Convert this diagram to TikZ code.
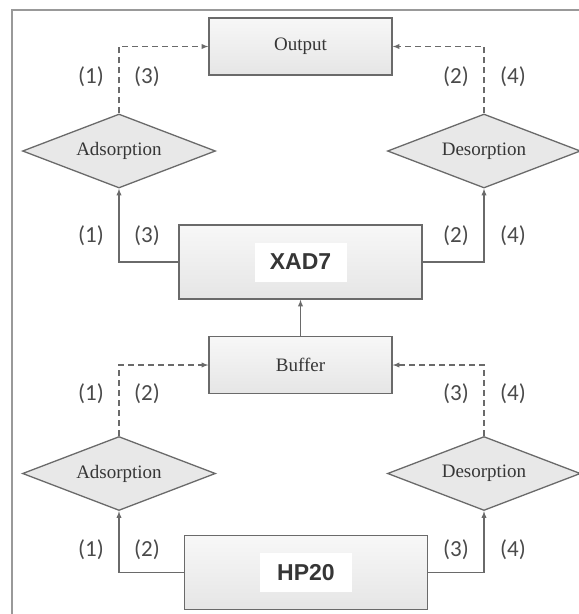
\documentclass[tikz,border=0pt]{standalone}
\usepackage{fontspec}
\setmainfont{Liberation Serif}
\newfontfamily\numfont{Carlito}
\newfontfamily\tagfont{Liberation Sans}
\usetikzlibrary{shapes,arrows}
\definecolor{linegray}{HTML}{6A6A6A}
\definecolor{textgray}{HTML}{363636}
\tikzstyle{block} = [draw=linegray, line width=1.3pt, top color=white!97!black, bottom color=white!90!black, minimum width=183pt, minimum height=57pt, text=textgray, font=\fontsize{19}{19}\selectfont]
\tikzstyle{bigblock} = [block, minimum width=243pt, minimum height=74pt]
\tikzstyle{tag} = [fill=white, minimum width=92pt, minimum height=39pt, text=textgray, font=\tagfont\bfseries\fontsize{23}{23}\selectfont]
\tikzstyle{decision} = [diamond, aspect=2.6, draw=linegray, line width=1.3pt, fill=white!91!black, minimum width=193pt, minimum height=74pt, inner sep=0pt, text=textgray, font=\fontsize{19}{19}\selectfont]
\tikzstyle{pathlabel} = [text=textgray!90, font=\numfont\fontsize{23}{23}\selectfont]
\tikzstyle{flow} = [draw=linegray, line width=1.3pt, ->]
\tikzstyle{maybe} = [flow, dash pattern=on 6pt off 4pt]

\begin{document}
\begin{tikzpicture}[x=1pt, y=1pt, >=latex]
		\useasboundingbox (0,0) rectangle (579,-614);
		\fill [white] (0,0) rectangle (579,-614);
		\draw [gray!80, line width=1.6pt] (600,-10) -- (12,-10) -- (12,-630);
		
		% columns
		\node [bigblock] (xad) at (300.5,-262) {};
		\node [tag] (xadtag) at (xad) {XAD7};
		\node [block, above of=xad, node distance=215.5pt] (out) {Output};
		\node [block, below of=xad, node distance=103pt] (buf) {Buffer};
		\node [bigblock, below of=buf, node distance=207.5pt, xshift=5.5pt] (hp) {};
		\node [tag] (hptag) at (hp) {HP20};
		
		\node [decision] (ad1) at (119,-151) {Adsorption};
		\node [decision, right of=ad1, node distance=365pt] (de1) {Desorption};
		\node [decision] (ad2) at (119,-473.5) {Adsorption};
		\node [decision, right of=ad2, node distance=365pt] (de2) {Desorption};
		
		% step numbers
		\node [pathlabel] (n1) at (91,-77) {(1)};
		\node [pathlabel] (n2) at (147,-77) {(3)};
		\node [pathlabel] (n3) at (456,-77) {(2)};
		\node [pathlabel] (n4) at (513,-77) {(4)};
		\node [pathlabel] (n5) at (91,-236) {(1)};
		\node [pathlabel] (n6) at (147,-236) {(3)};
		\node [pathlabel] (n7) at (456,-236) {(2)};
		\node [pathlabel] (n8) at (513,-236) {(4)};
		\node [pathlabel] (n9) at (91,-394) {(1)};
		\node [pathlabel] (n10) at (147,-394) {(2)};
		\node [pathlabel] (n11) at (456,-394) {(3)};
		\node [pathlabel] (n12) at (513,-394) {(4)};
		\node [pathlabel] (n13) at (91,-550) {(1)};
		\node [pathlabel] (n14) at (147,-550) {(2)};
		\node [pathlabel] (n15) at (456,-550) {(3)};
		\node [pathlabel] (n16) at (513,-550) {(4)};
		
		\draw [flow] (xad.west) -| (ad1.south);
		\draw [flow] (xad.east) -| (de1.south);
		\draw [maybe] (ad1.north) |- (out.west);
		\draw [maybe] (de1.north) |- (out.east);
		\draw [flow] (buf.north) -- (xad.south);
		\draw [maybe] (ad2.north) |- (buf.west);
		\draw [maybe] (de2.north) |- (buf.east);
		\draw [flow] (hp.west) -| (ad2.south);
		\draw [flow] (hp.east) -| (de2.south);
		
		\end{tikzpicture}
\end{document}
